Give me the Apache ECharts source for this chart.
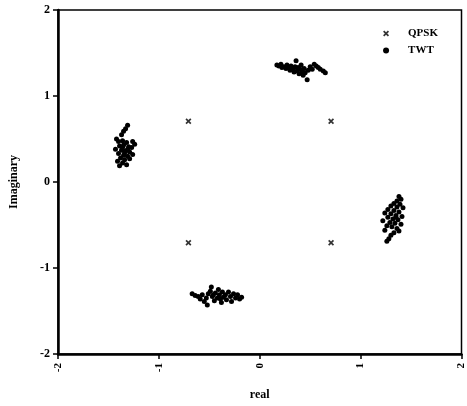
<!DOCTYPE html>
<html><head><meta charset="utf-8">
<script src="https://cdn.jsdelivr.net/npm/echarts@6/dist/echarts.min.js"></script>
<style>html,body{margin:0;padding:0;background:#fff}#c{width:467px;height:406px}</style>
</head><body><div id="c"></div>
<script>
var xTicks = [-2, -1, 0, 1, 2];
var yTicks = [-2, -1, 0, 1, 2];
var qpsk = [[-0.707,0.707],[0.707,0.707],[-0.707,-0.707],[0.707,-0.707]];
var twtTop = [[0.17,1.36],[0.19,1.35],[0.21,1.37],[0.22,1.33],[0.24,1.34],[0.26,1.32],[0.27,1.36],[0.29,1.33],[0.30,1.30],[0.31,1.35],[0.33,1.31],[0.34,1.28],[0.35,1.34],[0.36,1.41],[0.37,1.29],[0.38,1.33],[0.39,1.26],[0.40,1.31],[0.41,1.36],[0.42,1.28],[0.43,1.24],[0.44,1.32],[0.45,1.27],[0.47,1.19],[0.48,1.30],[0.50,1.34],[0.52,1.31],[0.54,1.37],[0.56,1.35],[0.58,1.33],[0.60,1.31],[0.63,1.29],[0.65,1.27]];
var twtLeft = [[-1.31,0.66],[-1.33,0.62],[-1.35,0.59],[-1.37,0.55],[-1.42,0.50],[-1.40,0.47],[-1.36,0.48],[-1.32,0.46],[-1.26,0.47],[-1.24,0.44],[-1.39,0.42],[-1.35,0.43],[-1.30,0.41],[-1.27,0.40],[-1.43,0.38],[-1.37,0.37],[-1.33,0.36],[-1.29,0.35],[-1.40,0.33],[-1.35,0.31],[-1.31,0.30],[-1.26,0.32],[-1.38,0.28],[-1.34,0.26],[-1.29,0.27],[-1.41,0.24],[-1.36,0.22],[-1.32,0.20],[-1.39,0.19],[-1.34,0.34],[-1.36,0.40],[-1.31,0.38]];
var twtBottom = [[-0.67,-1.30],[-0.64,-1.32],[-0.61,-1.33],[-0.59,-1.36],[-0.57,-1.31],[-0.55,-1.39],[-0.53,-1.35],[-0.51,-1.30],[-0.49,-1.27],[-0.48,-1.22],[-0.47,-1.33],[-0.45,-1.38],[-0.44,-1.29],[-0.42,-1.35],[-0.41,-1.25],[-0.40,-1.31],[-0.38,-1.40],[-0.37,-1.28],[-0.36,-1.34],[-0.34,-1.31],[-0.33,-1.37],[-0.31,-1.28],[-0.29,-1.33],[-0.28,-1.39],[-0.26,-1.30],[-0.24,-1.35],[-0.22,-1.31],[-0.20,-1.36],[-0.18,-1.34],[-0.52,-1.43],[-0.39,-1.36],[-0.46,-1.31]];
var twtRight = [[1.38,-0.17],[1.40,-0.20],[1.36,-0.22],[1.33,-0.25],[1.39,-0.26],[1.30,-0.28],[1.36,-0.29],[1.42,-0.30],[1.27,-0.32],[1.33,-0.33],[1.38,-0.35],[1.24,-0.36],[1.30,-0.37],[1.35,-0.39],[1.41,-0.40],[1.27,-0.41],[1.32,-0.43],[1.37,-0.44],[1.22,-0.45],[1.29,-0.47],[1.34,-0.48],[1.40,-0.49],[1.26,-0.51],[1.31,-0.52],[1.36,-0.54],[1.24,-0.56],[1.38,-0.57],[1.33,-0.59],[1.30,-0.62],[1.28,-0.66],[1.26,-0.69],[1.35,-0.41]];
var twt = twtTop.concat(twtLeft, twtBottom, twtRight);

var font = '"Liberation Serif", "DejaVu Serif", serif';
var xSym = 'path://M0,2 L2,0 L5,3 L8,0 L10,2 L7,5 L10,8 L8,10 L5,7 L2,10 L0,8 L3,5 Z';
var chart = echarts.init(document.getElementById('c'));
chart.setOption({
  animation: false,
  backgroundColor: '#fff',
  grid: {left: 58, right: 5, top: 10, bottom: 46, show: true, borderColor: '#000', borderWidth: 1.5},
  legend: {
    orient: 'vertical', right: 24, top: 23, itemWidth: 34, itemHeight: 6, itemGap: 6,
    textStyle: {fontFamily: font, fontWeight: 'bold', fontSize: 11, color: '#000'},
    data: [{name: 'QPSK', icon: xSym}, {name: 'TWT', icon: 'circle'}]
  },
  xAxis: {
    type: 'value', min: -2, max: 2, interval: 1,
    name: 'real', nameLocation: 'middle', nameGap: 35,
    nameTextStyle: {fontFamily: font, fontWeight: 'bold', fontSize: 12, color: '#000'},
    axisLine: {onZero: false, lineStyle: {color: '#000', width: 2.5}},
    axisTick: {show: true, length: 5, lineStyle: {color: '#000', width: 1.5}},
    axisLabel: {rotate: 90, fontFamily: font, fontWeight: 'bold', fontSize: 11, color: '#000', margin: 9,
      formatter: function (v) { return xTicks.indexOf(v) >= 0 ? String(v) : ''; }},
    splitLine: {show: false}
  },
  yAxis: {
    type: 'value', min: -2, max: 2, interval: 1,
    name: 'Imaginary', nameLocation: 'middle', nameGap: 38,
    nameTextStyle: {fontFamily: font, fontWeight: 'bold', fontSize: 12, color: '#000'},
    axisLine: {onZero: false, lineStyle: {color: '#000', width: 2.5}},
    axisTick: {show: true, length: 5, lineStyle: {color: '#000', width: 1.5}},
    axisLabel: {fontFamily: font, fontWeight: 'bold', fontSize: 12, color: '#000', margin: 8,
      formatter: function (v) { return yTicks.indexOf(v) >= 0 ? String(v) : ''; }},
    splitLine: {show: false}
  },
  series: [
    {name: 'QPSK', type: 'scatter', data: qpsk, symbol: xSym, symbolSize: 6, itemStyle: {color: '#000'}},
    {name: 'TWT', type: 'scatter', data: twt, symbol: 'circle', symbolSize: 5, itemStyle: {color: '#000', opacity: 1}}
  ]
});
</script>
</body></html>
